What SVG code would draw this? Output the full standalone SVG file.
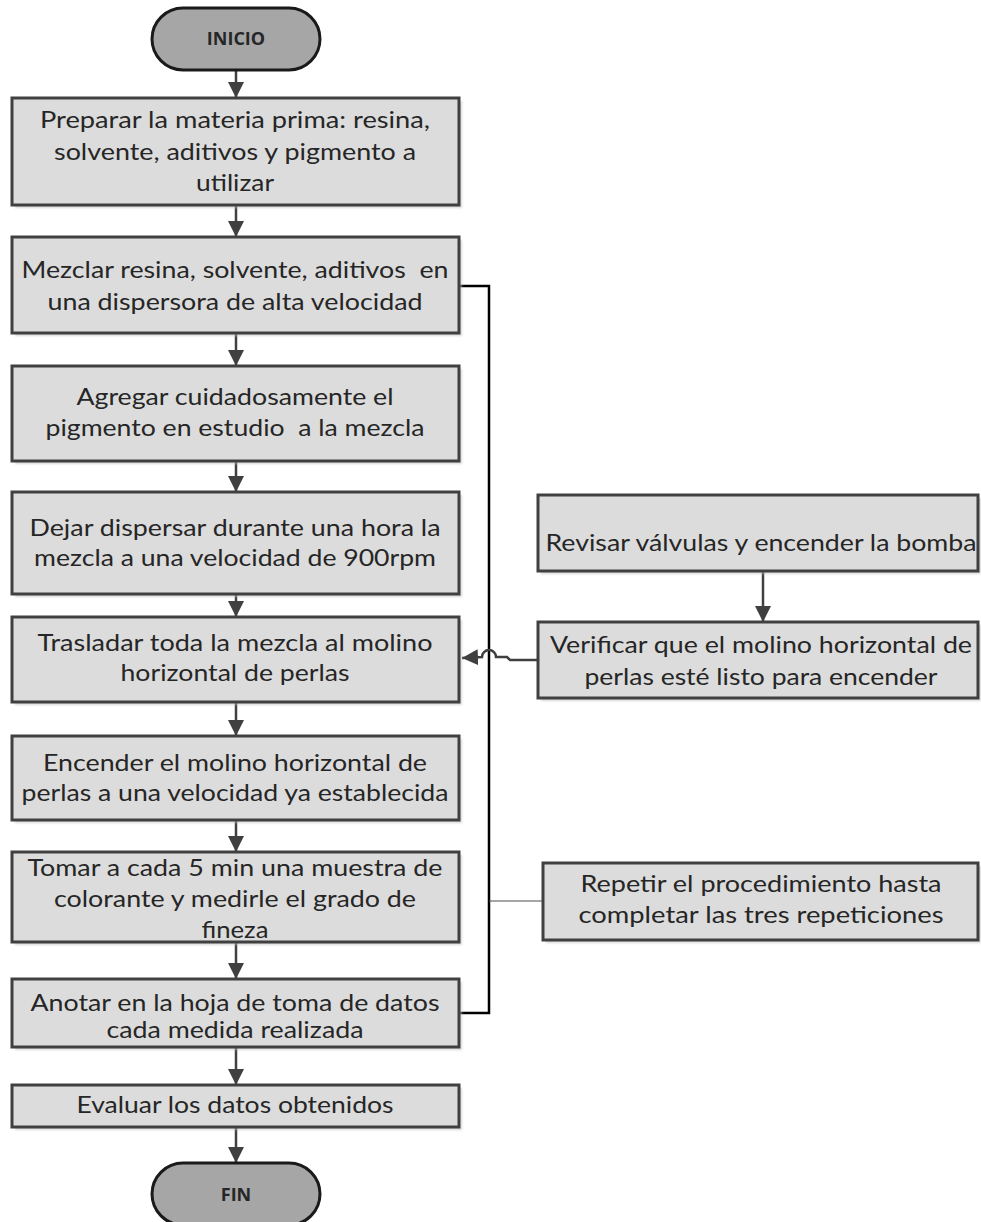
<svg xmlns="http://www.w3.org/2000/svg" width="981" height="1222" viewBox="0 0 981 1222">
  <defs>
    <marker id="arrow" markerUnits="userSpaceOnUse" markerWidth="16" markerHeight="16" viewBox="0 0 16 16" refX="16" refY="8" orient="auto">
      <path d="M0,0 L16,8 L0,16 z" fill="#404040"/>
    </marker>
    <filter id="shadow" x="-5%" y="-5%" width="110%" height="120%">
      <feGaussianBlur stdDeviation="1.2"/>
    </filter>
  </defs>
  <style>
    .box { fill: #dcdcdc; stroke: #404040; stroke-width: 3; }
    .shade { fill: #bdbdbd; opacity: 0.6; filter: url(#shadow); }
    .term { fill: #a6a6a6; stroke: #1a1a1a; stroke-width: 3; }
    .txt { font-family: Lato, "Liberation Sans", sans-serif; font-size: 23px; fill: #262626; text-anchor: middle; }
    .bold { font-family: "Open Sans", "Liberation Sans", sans-serif; font-size: 18px; font-weight: bold; fill: #262626; text-anchor: middle; }
    .flow { fill: none; stroke: #404040; stroke-width: 2.5; marker-end: url(#arrow); }
    .loop { fill: none; stroke: #000000; stroke-width: 2.5; }
    .thin { fill: none; stroke: #4d4d4d; stroke-width: 1; }
  </style>
  <rect width="981" height="1222" fill="#ffffff"/>

  <!-- connectors -->
  <g id="connectors">
    <line class="flow" x1="236" y1="70" x2="236" y2="98"/>
    <line class="flow" x1="236" y1="205" x2="236" y2="237"/>
    <line class="flow" x1="236" y1="333" x2="236" y2="366"/>
    <line class="flow" x1="236" y1="461" x2="236" y2="492"/>
    <line class="flow" x1="236" y1="594" x2="236" y2="617"/>
    <line class="flow" x1="236" y1="702" x2="236" y2="736"/>
    <line class="flow" x1="236" y1="820" x2="236" y2="852"/>
    <line class="flow" x1="236" y1="942" x2="236" y2="979"/>
    <line class="flow" x1="236" y1="1047" x2="236" y2="1085"/>
    <line class="flow" x1="236" y1="1127" x2="236" y2="1163"/>
    <line class="flow" x1="763" y1="571" x2="763" y2="622"/>
    <!-- loop line beside the main column -->
    <polyline class="loop" points="459,286 489,286 489,1013 459,1013"/>
    <line class="thin" x1="489" y1="901" x2="543" y2="901"/>
    <!-- side branch with a hop over the loop line -->
    <path class="flow" d="M538,660 L510,660 L507,657 L496,657 A7,7 0 0 0 482,657 L462,658"/>
  </g>

  <g id="inicio">
    <rect class="term" x="152" y="8" width="168" height="62" rx="31" ry="31"/>
    <text class="bold" x="236" y="45">INICIO</text>
  </g>

  <g id="preparar">
    <rect class="shade" x="15" y="101" width="447" height="107"/>
    <rect class="box" x="12" y="98" width="447" height="107"/>
    <text class="txt" x="235" y="128" textLength="390" lengthAdjust="spacingAndGlyphs">Preparar la materia prima: resina,</text>
    <text class="txt" x="235" y="160" textLength="362" lengthAdjust="spacingAndGlyphs">solvente, aditivos y pigmento a</text>
    <text class="txt" x="235" y="191" textLength="78" lengthAdjust="spacingAndGlyphs">utilizar</text>
  </g>

  <g id="mezclar">
    <rect class="shade" x="15" y="240" width="447" height="96"/>
    <rect class="box" x="12" y="237" width="447" height="96"/>
    <text class="txt" x="235" y="278" xml:space="preserve" textLength="427" lengthAdjust="spacingAndGlyphs">Mezclar resina, solvente, aditivos  en</text>
    <text class="txt" x="235" y="310" textLength="375" lengthAdjust="spacingAndGlyphs">una dispersora de alta velocidad</text>
  </g>

  <g id="agregar">
    <rect class="shade" x="15" y="369" width="447" height="95"/>
    <rect class="box" x="12" y="366" width="447" height="95"/>
    <text class="txt" x="235" y="405" textLength="317" lengthAdjust="spacingAndGlyphs">Agregar cuidadosamente el</text>
    <text class="txt" x="235" y="436" xml:space="preserve" textLength="379" lengthAdjust="spacingAndGlyphs">pigmento en estudio  a la mezcla</text>
  </g>

  <g id="dejar">
    <rect class="shade" x="15" y="495" width="447" height="102"/>
    <rect class="box" x="12" y="492" width="447" height="102"/>
    <text class="txt" x="235" y="536" textLength="411" lengthAdjust="spacingAndGlyphs">Dejar dispersar durante una hora la</text>
    <text class="txt" x="235" y="566" textLength="402" lengthAdjust="spacingAndGlyphs">mezcla a una velocidad de 900rpm</text>
  </g>

  <g id="trasladar">
    <rect class="shade" x="15" y="620" width="447" height="85"/>
    <rect class="box" x="12" y="617" width="447" height="85"/>
    <text class="txt" x="235" y="651" textLength="395" lengthAdjust="spacingAndGlyphs">Trasladar toda la mezcla al molino</text>
    <text class="txt" x="235" y="681" textLength="229" lengthAdjust="spacingAndGlyphs">horizontal de perlas</text>
  </g>

  <g id="encender">
    <rect class="shade" x="15" y="739" width="447" height="84"/>
    <rect class="box" x="12" y="736" width="447" height="84"/>
    <text class="txt" x="235" y="771" textLength="384" lengthAdjust="spacingAndGlyphs">Encender el molino horizontal de</text>
    <text class="txt" x="235" y="801" textLength="427" lengthAdjust="spacingAndGlyphs">perlas a una velocidad ya establecida</text>
  </g>

  <g id="tomar">
    <rect class="shade" x="15" y="855" width="447" height="90"/>
    <rect class="box" x="12" y="852" width="447" height="90"/>
    <text class="txt" x="235" y="876" textLength="415" lengthAdjust="spacingAndGlyphs">Tomar a cada 5 min una muestra de</text>
    <text class="txt" x="235" y="907" textLength="362" lengthAdjust="spacingAndGlyphs">colorante y medirle el grado de</text>
    <text class="txt" x="235" y="938" textLength="67" lengthAdjust="spacingAndGlyphs">fineza</text>
  </g>

  <g id="anotar">
    <rect class="shade" x="15" y="982" width="447" height="68"/>
    <rect class="box" x="12" y="979" width="447" height="68"/>
    <text class="txt" x="235" y="1011" textLength="409" lengthAdjust="spacingAndGlyphs">Anotar en la hoja de toma de datos</text>
    <text class="txt" x="235" y="1038" textLength="257" lengthAdjust="spacingAndGlyphs">cada medida realizada</text>
  </g>

  <g id="evaluar">
    <rect class="shade" x="15" y="1088" width="447" height="42"/>
    <rect class="box" x="12" y="1085" width="447" height="42"/>
    <text class="txt" x="235" y="1113" textLength="317" lengthAdjust="spacingAndGlyphs">Evaluar los datos obtenidos</text>
  </g>

  <g id="fin">
    <rect class="term" x="152" y="1163" width="168" height="62" rx="31" ry="31"/>
    <text class="bold" x="236" y="1201">FIN</text>
  </g>

  <g id="revisar">
    <rect class="shade" x="541" y="498" width="440" height="76"/>
    <rect class="box" x="538" y="495" width="440" height="76"/>
    <text class="txt" x="761" y="551" textLength="431" lengthAdjust="spacingAndGlyphs">Revisar válvulas y encender la bomba</text>
  </g>

  <g id="verificar">
    <rect class="shade" x="541" y="625" width="440" height="76"/>
    <rect class="box" x="538" y="622" width="440" height="76"/>
    <text class="txt" x="761" y="653" textLength="422" lengthAdjust="spacingAndGlyphs">Verificar que el molino horizontal de</text>
    <text class="txt" x="761" y="685" textLength="353" lengthAdjust="spacingAndGlyphs">perlas esté listo para encender</text>
  </g>

  <g id="repetir">
    <rect class="shade" x="546" y="866" width="435" height="77"/>
    <rect class="box" x="543" y="863" width="435" height="77"/>
    <text class="txt" x="761" y="892" textLength="361" lengthAdjust="spacingAndGlyphs">Repetir el procedimiento hasta</text>
    <text class="txt" x="761" y="923" textLength="365" lengthAdjust="spacingAndGlyphs">completar las tres repeticiones</text>
  </g>
</svg>
